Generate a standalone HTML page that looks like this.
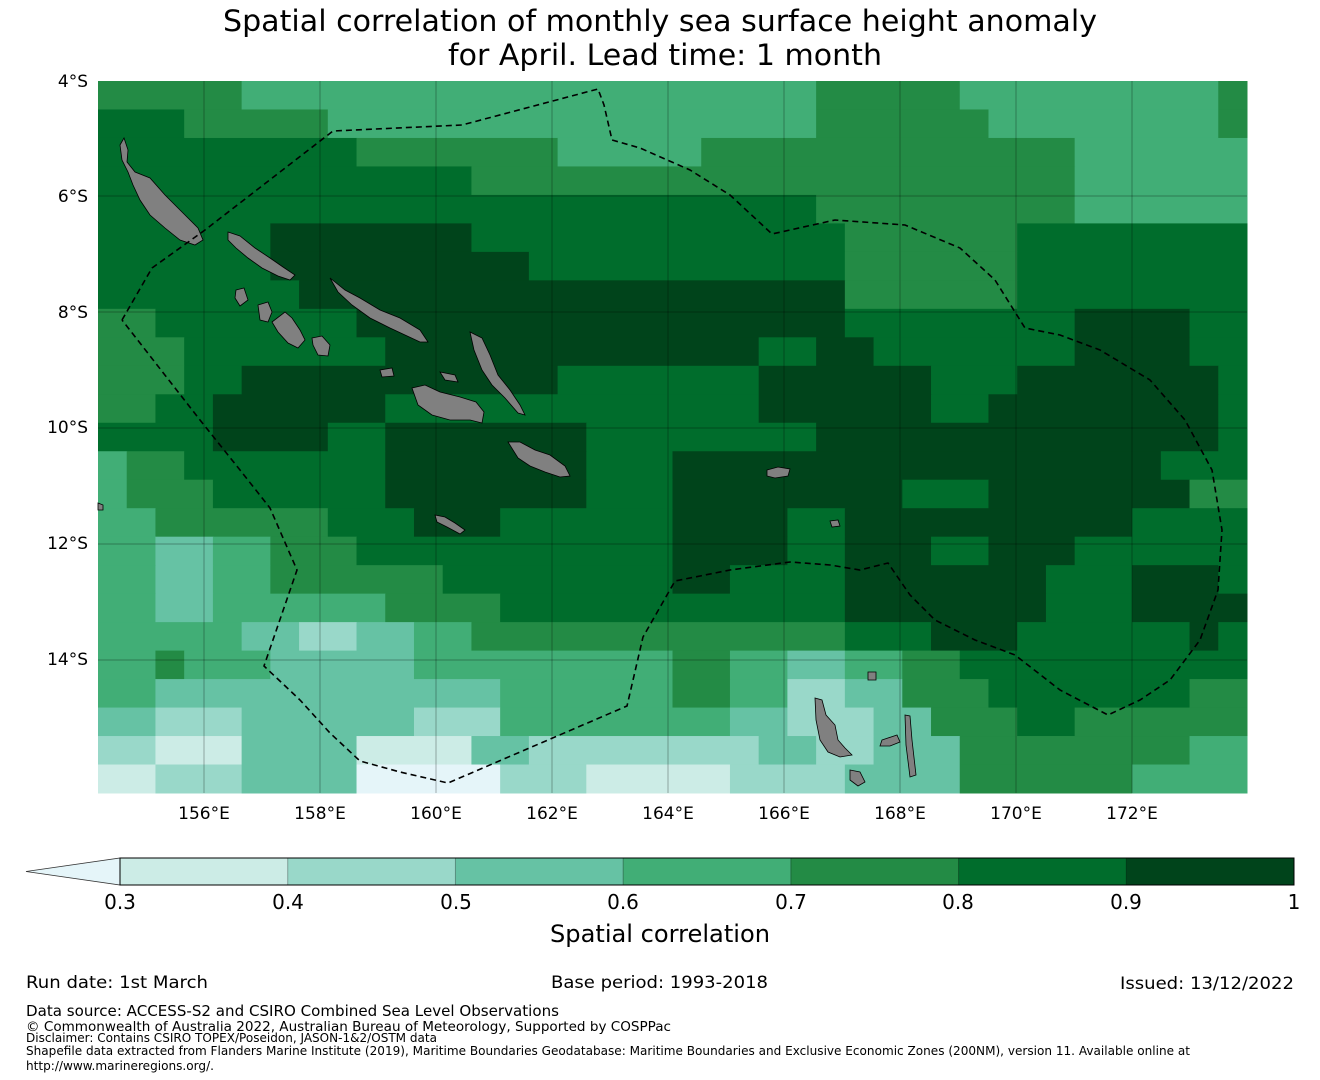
<!DOCTYPE html>
<html><head><meta charset="utf-8"><style>
html,body{margin:0;padding:0;background:#fff;}
svg{display:block;font-family:"DejaVu Sans","Liberation Sans",sans-serif;}
</style></head><body>
<svg id="s" width="1320" height="1080" xmlns="http://www.w3.org/2000/svg">
<text x="660" y="31" font-size="29" text-anchor="middle" textLength="874" lengthAdjust="spacingAndGlyphs">Spatial correlation of monthly sea surface height anomaly</text>
<text x="665" y="65" font-size="29" text-anchor="middle" textLength="434" lengthAdjust="spacingAndGlyphs">for April. Lead time: 1 month</text>
<g id="cells"></g>
<g id="grid" stroke="#000" stroke-opacity="0.3" stroke-width="1"></g>
<g fill="#808080" stroke="#000" stroke-width="0.8">
<polygon points="120,145 124,138 128,150 127,162 135,172 150,178 165,195 185,215 198,228 203,240 195,245 180,240 165,228 150,215 140,200 133,185 128,172 122,160"/>
<polygon points="228,232 240,236 255,248 270,258 283,267 295,275 290,280 278,276 262,268 248,258 236,248 228,240"/>
<polygon points="330,278 345,290 360,298 380,310 400,318 420,330 428,342 420,342 405,335 390,328 370,318 352,305 338,292"/>
<polygon points="470,332 482,338 490,355 498,375 510,390 520,405 525,415 518,413 505,398 492,385 482,370 474,350"/>
<polygon points="412,388 425,385 440,392 460,397 476,402 484,412 482,423 470,420 450,420 432,415 418,405"/>
<polygon points="508,442 520,442 535,450 550,455 565,466 570,476 560,477 545,472 530,466 518,458"/>
<polygon points="258,305 268,302 272,312 268,322 260,320"/>
<polygon points="272,322 285,312 292,318 300,330 305,340 298,348 288,343 278,332"/>
<polygon points="312,338 322,336 330,345 328,356 318,355 313,345"/>
<polygon points="236,290 244,288 248,300 240,306 235,298"/>
<polygon points="815,698 822,700 826,715 835,725 838,740 845,748 852,755 840,757 828,752 820,740 816,720"/>
<polygon points="905,715 910,716 912,740 916,775 910,777 906,745"/>
<polygon points="882,740 897,735 900,742 890,746 880,746"/>
<polygon points="850,770 860,772 865,782 858,786 850,780"/>
<polygon points="767,470 778,467 790,469 788,476 775,478 767,476"/>
<polygon points="435,515 445,517 455,523 465,530 460,534 447,527 437,522"/>
<polygon points="868,672 876,672 876,680 868,680"/>
<polygon points="830,521 838,520 840,526 832,527"/>
<polygon points="98,503 103,505 103,510 98,510"/>
<polygon points="380,370 392,368 394,376 382,377"/>
<polygon points="440,372 455,375 458,382 445,380"/>
</g>
<polyline fill="none" stroke="#000" stroke-width="1.6" stroke-dasharray="6,4" points="122,320 152,268 205,230 333,131 462,125 598,89 604,105 612,140 640,148 690,170 730,195 772,234 835,220 905,225 960,248 995,280 1025,328 1060,335 1100,350 1150,380 1185,420 1212,470 1222,530 1218,590 1200,640 1170,680 1140,700 1108,715 1060,690 1015,655 975,640 935,620 910,595 888,563 860,570 830,565 790,562 730,570 675,581 643,637 627,706 448,783 400,772 360,761 330,733 300,700 264,666 297,570 270,508 240,470 200,420 122,320"/>
<g font-size="17" fill="#000">
<text x="88" y="87" text-anchor="end">4°S</text>
<text x="88" y="202" text-anchor="end">6°S</text>
<text x="88" y="318" text-anchor="end">8°S</text>
<text x="88" y="433" text-anchor="end">10°S</text>
<text x="88" y="549" text-anchor="end">12°S</text>
<text x="88" y="665" text-anchor="end">14°S</text>
<text x="204" y="819" text-anchor="middle">156°E</text>
<text x="320" y="819" text-anchor="middle">158°E</text>
<text x="436" y="819" text-anchor="middle">160°E</text>
<text x="552" y="819" text-anchor="middle">162°E</text>
<text x="668" y="819" text-anchor="middle">164°E</text>
<text x="784" y="819" text-anchor="middle">166°E</text>
<text x="900" y="819" text-anchor="middle">168°E</text>
<text x="1016" y="819" text-anchor="middle">170°E</text>
<text x="1132" y="819" text-anchor="middle">172°E</text>
</g>
<g id="cb" stroke="none"></g>
<polygon points="26,871.5 120,858 120,885" fill="#e5f5f9" stroke="#333" stroke-width="0.8"/>
<rect x="120" y="858" width="1174" height="27" fill="none" stroke="#000" stroke-width="1"/>
<g font-size="20" text-anchor="middle">
<text x="120" y="909">0.3</text><text x="288" y="909">0.4</text><text x="456" y="909">0.5</text><text x="623" y="909">0.6</text><text x="791" y="909">0.7</text><text x="958" y="909">0.8</text><text x="1126" y="909">0.9</text><text x="1294" y="909">1</text>
</g>
<text x="660" y="942" font-size="24" text-anchor="middle" textLength="220" lengthAdjust="spacingAndGlyphs">Spatial correlation</text>
<g font-size="17">
<text x="26" y="988" textLength="182" lengthAdjust="spacingAndGlyphs">Run date: 1st March</text>
<text x="551" y="988" textLength="217" lengthAdjust="spacingAndGlyphs">Base period: 1993-2018</text>
<text x="1294" y="989" text-anchor="end" textLength="174" lengthAdjust="spacingAndGlyphs">Issued: 13/12/2022</text>
<text x="26" y="1016" font-size="15" textLength="533" lengthAdjust="spacingAndGlyphs">Data source: ACCESS-S2 and CSIRO Combined Sea Level Observations</text>
<text x="26" y="1031" font-size="13" textLength="645" lengthAdjust="spacingAndGlyphs">© Commonwealth of Australia 2022, Australian Bureau of Meteorology, Supported by COSPPac</text>
<text x="26" y="1042" font-size="12" textLength="411" lengthAdjust="spacingAndGlyphs">Disclaimer: Contains CSIRO TOPEX/Poseidon, JASON-1&amp;2/OSTM data</text>
<text x="26" y="1055" font-size="12" textLength="1164" lengthAdjust="spacingAndGlyphs">Shapefile data extracted from Flanders Marine Institute (2019), Maritime Boundaries Geodatabase: Maritime Boundaries and Exclusive Economic Zones (200NM), version 11. Available online at</text>
<text x="26" y="1070" font-size="12" textLength="188" lengthAdjust="spacingAndGlyphs">http://www.marineregions.org/.</text>
</g>
</svg>
<script>
var C=["#e5f5f9","#ccece6","#99d8c9","#66c2a4","#41ae76","#238b45","#006d2c","#00441b"];
var R=[
[[0,4,5],[5,24,4],[25,29,5],[30,38,4],[39,39,5]],
[[0,2,6],[3,7,5],[8,24,4],[25,30,5],[31,38,4],[39,39,5]],
[[0,8,6],[9,15,5],[16,20,4],[21,33,5],[34,39,4]],
[[0,12,6],[13,33,5],[34,39,4]],
[[0,24,6],[25,33,5],[34,39,4]],
[[0,5,6],[6,12,7],[13,25,6],[26,31,5],[32,39,6]],
[[0,5,6],[6,14,7],[15,25,6],[26,31,5],[32,39,6]],
[[0,6,6],[7,25,7],[26,31,5],[32,39,6]],
[[0,1,5],[2,3,6],[4,8,6],[9,25,7],[26,33,6],[34,37,7],[38,39,6]],
[[0,2,5],[3,9,6],[10,22,7],[23,24,6],[25,26,7],[27,33,6],[34,37,7],[38,39,6]],
[[0,2,5],[3,4,6],[5,15,7],[16,22,6],[23,28,7],[29,31,6],[32,38,7],[39,39,6]],
[[0,1,5],[2,3,6],[4,9,7],[10,22,6],[23,28,7],[29,30,6],[31,38,7],[39,39,6]],
[[0,3,6],[4,7,7],[8,9,6],[10,16,7],[17,24,6],[25,38,7],[39,39,6]],
[[0,0,4],[1,2,5],[3,9,6],[10,16,7],[17,19,6],[20,36,7],[37,39,6]],
[[0,0,4],[1,3,5],[4,9,6],[10,16,7],[17,19,6],[20,27,7],[28,30,6],[31,37,7],[38,39,5]],
[[0,1,4],[2,7,5],[8,10,6],[11,13,7],[14,19,6],[20,23,7],[24,25,6],[26,35,7],[36,39,6]],
[[0,1,4],[2,3,3],[4,5,4],[6,8,5],[9,19,6],[20,23,7],[24,25,6],[26,28,7],[29,30,6],[31,33,7],[34,39,6]],
[[0,1,4],[2,3,3],[4,5,4],[6,11,5],[12,19,6],[20,21,7],[22,25,6],[26,32,7],[33,35,6],[36,38,7],[39,39,6]],
[[0,1,4],[2,3,3],[4,9,4],[10,13,5],[14,25,6],[26,32,7],[33,35,6],[36,39,7]],
[[0,4,4],[5,6,3],[7,8,2],[9,10,3],[11,12,4],[13,25,5],[26,28,6],[29,31,7],[32,37,6],[38,38,7],[39,39,6]],
[[0,1,4],[2,2,5],[3,5,4],[6,10,3],[11,19,4],[20,21,5],[22,23,4],[24,25,3],[26,27,4],[28,29,5],[30,39,6]],
[[0,1,4],[2,13,3],[14,19,4],[20,21,5],[22,23,4],[24,25,2],[26,27,3],[28,30,5],[31,37,6],[38,39,5]],
[[0,1,3],[2,4,2],[5,10,3],[11,13,2],[14,21,4],[22,23,3],[24,26,2],[27,28,3],[29,31,5],[32,33,6],[34,39,5]],
[[0,1,2],[2,4,1],[5,8,3],[9,12,1],[13,14,3],[15,22,2],[23,24,3],[25,26,2],[27,29,3],[30,37,5],[38,39,4]],
[[0,1,1],[2,4,2],[5,8,3],[9,13,0],[14,16,2],[17,21,1],[22,25,2],[26,29,3],[30,35,5],[36,39,4]]];
var ns="http://www.w3.org/2000/svg",g=document.getElementById("cells");
var cw=1149/40,ch=712/25;
R.forEach(function(row,r){row.forEach(function(s){var e=document.createElementNS(ns,"rect");
e.setAttribute("x",98+s[0]*cw);e.setAttribute("y",81+r*ch);e.setAttribute("width",(s[1]-s[0]+1)*cw+0.5);e.setAttribute("height",ch+0.5);e.setAttribute("fill",C[s[2]]);g.appendChild(e);});});
var gr=document.getElementById("grid");
[204,320,436,552,668,784,900,1016,1132].forEach(function(x){var l=document.createElementNS(ns,"line");l.setAttribute("x1",x);l.setAttribute("x2",x);l.setAttribute("y1",81);l.setAttribute("y2",793);gr.appendChild(l);});
[196,312,428,544,660].forEach(function(y){var l=document.createElementNS(ns,"line");l.setAttribute("y1",y);l.setAttribute("y2",y);l.setAttribute("x1",98);l.setAttribute("x2",1247);gr.appendChild(l);});
var cb=document.getElementById("cb");
for(var i=0;i<7;i++){var e=document.createElementNS(ns,"rect");e.setAttribute("x",120+i*1174/7);e.setAttribute("y",858);e.setAttribute("width",1174/7+0.5);e.setAttribute("height",27);e.setAttribute("fill",C[i+1]);cb.appendChild(e);
if(i>0){var l=document.createElementNS(ns,"line");l.setAttribute("x1",120+i*1174/7);l.setAttribute("x2",120+i*1174/7);l.setAttribute("y1",858);l.setAttribute("y2",885);l.setAttribute("stroke","#000");l.setAttribute("stroke-opacity","0.3");cb.appendChild(l);}}
</script>
</body></html>
